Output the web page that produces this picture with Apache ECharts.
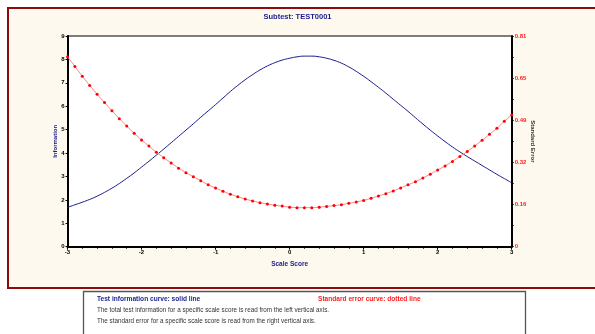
<!DOCTYPE html>
<html>
<head>
<meta charset="utf-8">
<script src="https://cdn.jsdelivr.net/npm/echarts@6/dist/echarts.min.js"></script>
<style>
html,body{margin:0;padding:0;background:#fff;}
#chart{width:595px;height:334px;}
</style>
</head>
<body>
<div id="chart"></div>
<script>
// Scale score grid (theta), step 0.1
const scaleScores = [-3.0,-2.9,-2.8,-2.7,-2.6,-2.5,-2.4,-2.3,-2.2,-2.1,-2.0,-1.9,-1.8,-1.7,-1.6,-1.5,-1.4,-1.3,-1.2,-1.1,-1.0,-0.9,-0.8,-0.7,-0.6,-0.5,-0.4,-0.3,-0.2,-0.1,0.0,0.1,0.2,0.3,0.4,0.5,0.6,0.7,0.8,0.9,1.0,1.1,1.2,1.3,1.4,1.5,1.6,1.7,1.8,1.9,2.0,2.1,2.2,2.3,2.4,2.5,2.6,2.7,2.8,2.9,3.0];
// Test information (left axis)
const information = [1.68,1.79,1.90,2.02,2.16,2.32,2.50,2.70,2.92,3.15,3.40,3.65,3.91,4.17,4.44,4.71,4.98,5.25,5.53,5.80,6.07,6.35,6.63,6.89,7.13,7.35,7.55,7.72,7.86,7.97,8.05,8.11,8.14,8.14,8.11,8.05,7.96,7.84,7.68,7.49,7.28,7.05,6.81,6.56,6.30,6.04,5.78,5.51,5.24,4.98,4.73,4.49,4.26,4.05,3.85,3.66,3.47,3.28,3.09,2.91,2.73];
// Standard error (right axis)
const standardError = [0.730,0.693,0.655,0.620,0.586,0.554,0.523,0.492,0.464,0.436,0.410,0.387,0.363,0.342,0.322,0.302,0.284,0.269,0.254,0.238,0.226,0.213,0.202,0.192,0.183,0.176,0.169,0.164,0.159,0.156,0.152,0.150,0.150,0.150,0.152,0.155,0.158,0.161,0.167,0.172,0.178,0.186,0.195,0.204,0.214,0.226,0.238,0.250,0.264,0.279,0.295,0.310,0.328,0.347,0.366,0.387,0.409,0.432,0.455,0.482,0.506];

const titleText = 'Subtest: TEST0001';
const xName = 'Scale Score';
const leftName = 'Information';
const rightName = 'Standard Error';
const noteTitles = ['Test information curve: solid line', 'Standard error curve: dotted line'];
const noteLines = ['The total test information for a specific scale score is read from the left vertical axis.',
                   'The standard error for a specific scale score is read from the right vertical axis.'];

const FONT = 'Liberation Sans, Arial, sans-serif';
const NAVY = '#1c1c8c';

const chart = echarts.init(document.getElementById('chart'), null, {renderer: 'canvas'});
chart.setOption({
  animation: false,
  textStyle: {fontFamily: FONT},
  title: {
    text: titleText, left: 'center', top: 8,
    textStyle: {fontSize: 7.5, fontWeight: 'bold', color: NAVY, fontFamily: FONT}
  },
  graphic: [
    {type: 'rect', z: -100, silent: true, shape: {x: 8, y: 8, width: 620, height: 280},
     style: {fill: '#fdf9ee', stroke: '#8f0a0a', lineWidth: 2}},
    {type: 'rect', z: -100, silent: true, shape: {x: 83.5, y: 291.5, width: 442, height: 60},
     style: {fill: '#fff', stroke: '#555', lineWidth: 1.3}},
    {type: 'text', silent: true, style: {x: 97, y: 299, text: noteTitles[0], fill: NAVY, font: 'bold 6.6px ' + FONT, textVerticalAlign: 'middle'}},
    {type: 'text', silent: true, style: {x: 318, y: 299, text: noteTitles[1], fill: '#ff2020', font: 'bold 6.6px ' + FONT, textVerticalAlign: 'middle'}},
    {type: 'text', silent: true, style: {x: 97, y: 310, text: noteLines[0], fill: '#333', font: '6.3px ' + FONT, textVerticalAlign: 'middle'}},
    {type: 'text', silent: true, style: {x: 97, y: 321, text: noteLines[1], fill: '#333', font: '6.3px ' + FONT, textVerticalAlign: 'middle'}}
  ],
  grid: {
    left: 67.5, right: 83.3, top: 36, bottom: 87.3,
    show: true, backgroundColor: '#fff', borderColor: '#000', borderWidth: 1
  },
  xAxis: {
    type: 'value', min: -3, max: 3, interval: 1,
    name: xName, nameLocation: 'middle', nameGap: 14,
    nameTextStyle: {fontSize: 6.5, fontWeight: 'bold', color: NAVY},
    axisLine: {onZero: false, lineStyle: {color: '#000', width: 2}},
    axisTick: {length: 3, lineStyle: {color: '#000', width: 1}},
    minorTick: {show: true, splitNumber: 5, length: 2, lineStyle: {color: '#000'}},
    splitLine: {show: false},
    axisLabel: {fontSize: 6, fontWeight: 'bold', color: '#000', margin: 3}
  },
  yAxis: [
    {
      type: 'value', min: 0, max: 9, interval: 1, position: 'left',
      name: leftName, nameLocation: 'middle', nameGap: 9.5, nameRotate: 90,
      nameMoveOverlap: false,
      nameTextStyle: {fontSize: 6, fontWeight: 'bold', color: NAVY},
      axisLine: {show: true, onZero: false, lineStyle: {color: '#000', width: 2}},
      axisTick: {show: true, length: 2, lineStyle: {color: '#000'}},
      splitLine: {show: false},
      axisLabel: {fontSize: 6, fontWeight: 'bold', color: '#000', margin: 3}
    },
    {
      type: 'value', min: 0, max: 0.81, interval: 0.162, position: 'right',
      name: rightName, nameLocation: 'middle', nameGap: 18, nameRotate: -90,
      nameMoveOverlap: false,
      nameTextStyle: {fontSize: 6, fontWeight: 'bold', color: '#333'},
      axisLine: {show: true, onZero: false, lineStyle: {color: '#000', width: 2}},
      axisTick: {show: true, length: 2, lineStyle: {color: '#000'}},
      minorTick: {show: true, splitNumber: 2, length: 2, lineStyle: {color: '#000'}},
      splitLine: {show: false},
      axisLabel: {fontSize: 6, fontWeight: 'bold', color: '#ff2020', margin: 3,
        formatter: v => v === 0 ? '0' : v.toFixed(2)}
    }
  ],
  series: [
    {
      name: 'Information', type: 'line', yAxisIndex: 0, smooth: true, showSymbol: false,
      data: scaleScores.map((x, i) => [x, information[i]]),
      lineStyle: {color: '#1a1a8c', width: 1}, z: 3
    },
    {
      name: 'Standard Error', type: 'line', yAxisIndex: 1, smooth: false,
      symbol: 'circle', symbolSize: 3, showSymbol: true,
      data: scaleScores.map((x, i) => [x, standardError[i]]),
      itemStyle: {color: '#ff0000', borderWidth: 0},
      lineStyle: {color: '#ff8a8a', width: 1}, z: 4
    }
  ]
});
</script>
</body>
</html>
